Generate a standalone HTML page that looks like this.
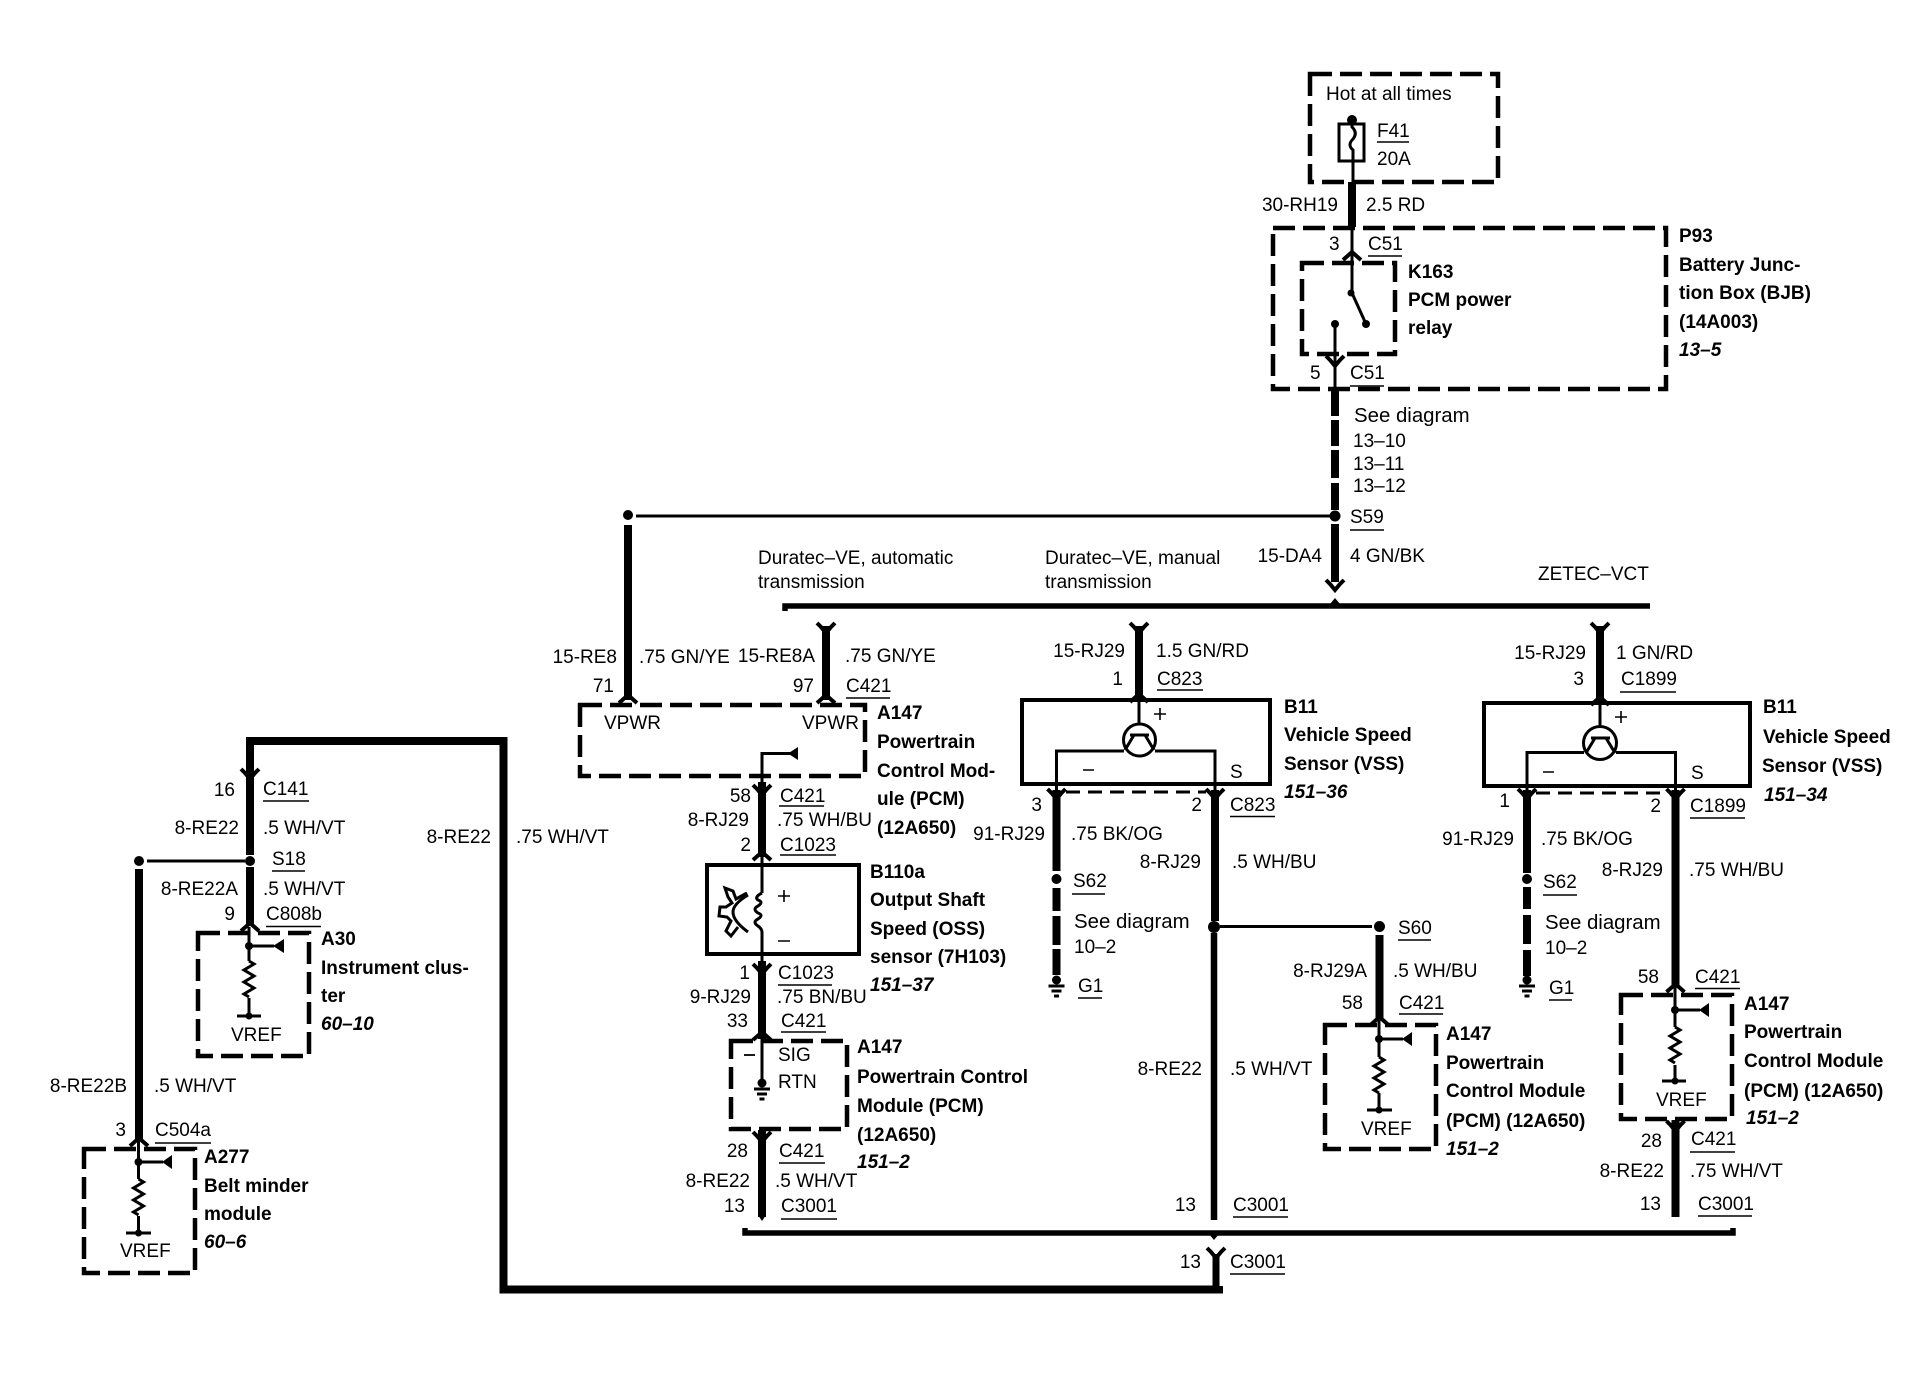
<!DOCTYPE html>
<html><head><meta charset="utf-8"><title>Wiring diagram</title>
<style>
html,body{margin:0;padding:0;background:#fff}
svg{display:block}
text{font-family:"Liberation Sans",sans-serif;font-size:19px;fill:#000}
.b{font-weight:bold}
.i{font-weight:bold;font-style:italic}
.e{text-anchor:end}
.sd{font-size:20.4px}
.th{fill:none;stroke:#000;stroke-width:8}
.tn{fill:none;stroke:#000;stroke-width:3}
.m{fill:none;stroke:#000;stroke-width:4}
.d{fill:none;stroke:#000;stroke-width:4.5;stroke-dasharray:22 8}
.u{fill:none;stroke:#000;stroke-width:1.6}
</style></head><body>
<svg xmlns="http://www.w3.org/2000/svg" width="1932" height="1376" viewBox="0 0 1932 1376">
<defs>
<path id="cu" d="M-9 7L0 -1L9 7" fill="none" stroke="#000" stroke-width="4"/>
<path id="cd" d="M-9 -7L-5 -3L0 3L5 -3L9 -7" fill="none" stroke="#000" stroke-width="4"/>
<path id="res" d="M0 0l5 3-10 6 10 6-10 6 10 6-10 6 5 3" fill="none" stroke="#000" stroke-width="3"/>
<g id="gnd"><circle r="4.5" cy="0"/><path d="M-8 6H8M-5 11H5M-2.5 16H2.5" stroke="#000" stroke-width="3"/></g>
</defs>
<rect width="1932" height="1376" fill="#fff"/>

<!-- dashed boxes -->
<path class="d" d="M1310 74H1498V182H1310Z"/>
<path class="d" d="M1273 228H1666V389H1273Z"/>
<path class="d" d="M1302 263H1395V354H1302Z"/>
<path class="d" d="M580 705H865V776H580Z"/>
<path class="d" d="M731 1041H847V1129H731Z"/>
<path class="d" d="M1325 1025H1436V1149H1325Z"/>
<path class="d" d="M1621 995H1732V1119H1621Z"/>
<path class="d" d="M198 933H309V1056H198Z"/>
<path class="d" d="M84 1149H195V1273H84Z"/>

<!-- top wires -->
<circle cx="1352" cy="120" r="5"/>
<rect x="1339" y="124" width="25" height="37" fill="none" stroke="#000" stroke-width="3"/>
<path class="tn" d="M1352 120V127Q1358 133 1353 139Q1347 145 1353 150V182"/>
<path class="th" d="M1352 182V227"/>
<path class="tn" d="M1352 227V293L1366 324"/>
<use href="#cu" x="1352" y="253"/>
<circle cx="1351" cy="293" r="3.5"/><circle cx="1366" cy="324" r="4"/>
<circle cx="1335" cy="324" r="4"/>
<path class="tn" d="M1335 324V389"/>
<use href="#cd" x="1335" y="363"/>
<path class="th" d="M1335 389V416M1335 420V446M1335 450V478M1335 483V510M1335 524V582"/>
<circle cx="1335" cy="516" r="5.5"/>
<path class="tn" d="M636 516H1330"/>
<use href="#cd" x="1335" y="587"/>
<path class="m" d="M785 611V606H1650" style="stroke-width:5.5"/>
<path d="M1335 598L1330 604H1340Z"/>
<circle cx="628" cy="515" r="5"/>
<path class="th" d="M628 525V700"/>
<use href="#cu" x="628" y="696"/>
<path class="th" d="M826 626V700"/>
<use href="#cd" x="826" y="630"/>
<use href="#cu" x="826" y="696"/>

<!-- OSS -->
<path class="tn" d="M762 782V753.5H790"/>
<path d="M788 753.5L798 747V760Z"/>
<path class="th" d="M762 782V857"/>
<use href="#cd" x="762" y="792"/>
<use href="#cu" x="762" y="853"/>
<rect x="707" y="865" width="152" height="89" fill="none" stroke="#000" stroke-width="4"/>
<path class="tn" d="M762 857V893M762 932V961"/>
<path class="tn" d="M762 893Q754 897 758 900Q764 902 758 906Q752 909 758 913Q764 915 758 919Q752 922 758 926Q762 929 762 932"/>
<path class="tn" d="M748 895Q733 904 733 912Q733 921 748 932M747 893L736 899L733 891L725 888L728 897L732 903L726 907L720 907L719 916L727 917L731 921L726 931L731 936L738 927"/>
<path class="tn" style="stroke-width:1.6" d="M778 896H790M784 890V902M778 941H790"/>
<path class="th" d="M762 961V1039"/>
<use href="#cd" x="762" y="971"/>
<use href="#cu" x="762" y="1033"/>
<path class="tn" d="M762 1032V1083"/>
<use href="#gnd" x="762" y="1083"/>
<path class="tn" style="stroke-width:1.8" d="M744 1055H755"/>
<path class="th" d="M762 1130V1217"/>
<path d="M758 1215H766L762 1221Z"/>
<use href="#cd" x="762" y="1139"/>

<!-- VSS 1 -->
<path class="th" d="M1139 626V699"/>
<use href="#cd" x="1139" y="630"/>
<use href="#cu" x="1139" y="695"/>
<rect x="1022" y="700" width="248" height="84" fill="none" stroke="#000" stroke-width="4"/>
<path class="tn" d="M1139 699V724M1056.5 790V751H1124M1155 751H1215V790"/>
<circle cx="1139.5" cy="740" r="16" fill="none" stroke="#000" stroke-width="3"/>
<path class="tn" d="M1130 735H1149M1134 735L1125 750M1145 735L1154 750"/>
<path class="tn" style="stroke-width:1.6" d="M1154 714H1166M1160 708V720M1083 770H1094"/>
<path class="tn" style="stroke-dasharray:14 8" d="M1066 792H1206"/>
<path class="th" d="M1056.5 790V871M1056.5 888V911M1056.5 916V945M1056.5 949V975M1215 790V921"/>
<path class="th" style="stroke-width:6.5" d="M1214 933V1220"/>
<use href="#cd" x="1056.5" y="796"/>
<use href="#cd" x="1215" y="796"/>
<circle cx="1056.5" cy="879" r="5"/>
<circle cx="1214" cy="927" r="6"/>
<path class="tn" d="M1220 926.5H1372"/>
<use href="#gnd" x="1056.5" y="980"/>

<!-- VSS 2 -->
<path class="th" d="M1600 626V702"/>
<use href="#cd" x="1600" y="630"/>
<use href="#cu" x="1600" y="698"/>
<rect x="1484" y="703" width="266" height="83" fill="none" stroke="#000" stroke-width="4"/>
<path class="tn" d="M1600 702V727M1527 790V752.5H1584M1616 752.5H1675.5V790"/>
<circle cx="1600" cy="743" r="16.5" fill="none" stroke="#000" stroke-width="3"/>
<path class="tn" d="M1591 738H1610M1595 738L1586 753M1606 738L1615 753"/>
<path class="tn" style="stroke-width:1.6" d="M1615 717H1627M1621 711V723M1543 772H1554"/>
<path class="tn" style="stroke-dasharray:14 8" d="M1536 793H1668"/>
<path class="th" d="M1527 790V873M1527 887V909M1527 915V944M1527 950V976M1675.5 790V986"/>
<use href="#cd" x="1527" y="796"/>
<use href="#cd" x="1675.5" y="796"/>
<circle cx="1527" cy="879" r="5"/>
<use href="#gnd" x="1527" y="980"/>
<use href="#cu" x="1675.5" y="985"/>

<!-- A147 VREF right -->
<path class="tn" d="M1675 985V1027M1675 1065V1081M1662 1081H1686M1675 1010H1700"/>
<circle cx="1675" cy="1010" r="4"/><circle cx="1675" cy="1081" r="3.5"/>
<path d="M1699 1010L1709 1003V1017Z"/>
<use href="#res" x="1675" y="1027"/>
<path class="th" d="M1675.5 1120V1217"/>
<use href="#cd" x="1675.5" y="1128"/>

<!-- S60 -->
<circle cx="1379.5" cy="926.5" r="5.5"/>
<path class="th" d="M1379.5 935V1019"/>
<use href="#cu" x="1379.5" y="1018"/>
<path class="tn" d="M1379 1020V1057M1379 1093V1110M1367 1110H1392M1379 1039H1403"/>
<circle cx="1379" cy="1039" r="4"/><circle cx="1379" cy="1110" r="3.5"/>
<path d="M1402 1039L1412 1032V1046Z"/>
<use href="#res" x="1379" y="1057"/>

<!-- bus bottom -->
<path class="m" style="stroke-width:5.5" d="M745 1228V1233H1733V1228"/>
<path d="M1214 1240L1209 1234H1219Z"/>
<use href="#cd" x="1216" y="1255"/>
<path class="th" style="stroke-width:7" d="M1216 1254V1290"/>

<!-- big left loop -->
<path class="th" d="M250 855V741H503.5V1289.5H1219V1286"/>
<path class="th" d="M250 867V925"/>
<circle cx="250" cy="861" r="5"/>
<use href="#cd" x="250" y="776"/>
<use href="#cu" x="250" y="924"/>
<circle cx="139" cy="861" r="5"/>
<path class="tn" d="M147 861H245"/>
<path class="th" d="M139 869V1140"/>
<use href="#cu" x="139" y="1139"/>
<path class="tn" d="M249 927V961M249 998V1016M237 1016H261M249 946H274"/>
<circle cx="249" cy="946" r="4"/><circle cx="249" cy="1016" r="3.5"/>
<path d="M273 946L284 939V953Z"/>
<use href="#res" x="249" y="961"/>
<path class="tn" d="M138.5 1141V1179M138.5 1216V1233M126 1233H151M138.5 1162H163"/>
<circle cx="138.5" cy="1162" r="4"/><circle cx="138.5" cy="1233" r="3.5"/>
<path d="M162 1162L172 1155V1169Z"/>
<use href="#res" x="138.5" y="1179"/>

<!-- underlines -->
<path class="u" d="M1377 142H1409M1368 256H1402M1350 386H1384M1350 530H1384M846 698H890M779 806H824M780 855H836M778 985H832M781 1032H826M1157 690H1203M1230 816.5H1275M1072 894H1105M1078 998H1102M1398 940H1431M1399 1014H1443M1620 692H1676M1690 818H1745M1543 895H1577M1549 1000H1572M1695 988.5H1740M1690 1152H1735M1698 1216H1752M1233 1217H1288M779 1163H825M781 1219H837M1230 1274H1285M263 801H309M272 871H305M266 926.5H321M155 1143H211"/>

<!-- text -->
<text x="1326" y="100">Hot at all times</text>
<text x="1377" y="137">F41</text>
<text x="1377" y="165">20A</text>
<text class="e" x="1338" y="211">30-RH19</text>
<text x="1366" y="211">2.5 RD</text>
<text x="1329" y="250">3</text>
<text x="1368" y="250">C51</text>
<text x="1310" y="379">5</text>
<text x="1350" y="379">C51</text>
<text class="b" x="1408" y="278">K163</text>
<text class="b" x="1408" y="306">PCM power</text>
<text class="b" x="1408" y="334">relay</text>
<text class="b" x="1679" y="242">P93</text>
<text class="b" x="1679" y="271">Battery Junc-</text>
<text class="b" x="1679" y="299">tion Box (BJB)</text>
<text class="b" x="1679" y="328">(14A003)</text>
<text class="i" x="1679" y="356">13–5</text>
<text class="sd" x="1354" y="422">See diagram</text>
<text x="1353" y="447">13–10</text>
<text x="1353" y="470">13–11</text>
<text x="1353" y="492">13–12</text>
<text x="1350" y="523">S59</text>
<text class="e" x="1322" y="562">15-DA4</text>
<text x="1350" y="562">4 GN/BK</text>
<text x="1538" y="580">ZETEC–VCT</text>
<text x="758" y="564">Duratec–VE, automatic</text>
<text x="758" y="588">transmission</text>
<text x="1045" y="564">Duratec–VE, manual</text>
<text x="1045" y="588">transmission</text>

<text class="e" x="617" y="663">15-RE8</text>
<text x="639" y="663">.75 GN/YE</text>
<text class="e" x="815" y="662">15-RE8A</text>
<text x="845" y="662">.75 GN/YE</text>
<text class="e" x="614" y="692">71</text>
<text class="e" x="814" y="692">97</text>
<text x="846" y="692">C421</text>
<text x="604" y="729">VPWR</text>
<text x="802" y="729">VPWR</text>
<text class="b" x="877" y="719">A147</text>
<text class="b" x="877" y="748">Powertrain</text>
<text class="b" x="877" y="777">Control Mod-</text>
<text class="b" x="877" y="805">ule (PCM)</text>
<text class="b" x="877" y="834">(12A650)</text>
<text class="e" x="751" y="802">58</text>
<text x="780" y="802">C421</text>
<text class="e" x="749" y="826">8-RJ29</text>
<text x="777" y="826">.75 WH/BU</text>
<text class="e" x="751" y="851">2</text>
<text x="780" y="851">C1023</text>
<text class="b" x="870" y="878">B110a</text>
<text class="b" x="870" y="906">Output Shaft</text>
<text class="b" x="870" y="935">Speed (OSS)</text>
<text class="b" x="870" y="963">sensor (7H103)</text>
<text class="i" x="870" y="991">151–37</text>
<text class="e" x="750" y="979">1</text>
<text x="778" y="979">C1023</text>
<text class="e" x="751" y="1003">9-RJ29</text>
<text x="777" y="1003">.75 BN/BU</text>
<text class="e" x="748" y="1027">33</text>
<text x="781" y="1027">C421</text>
<text x="778" y="1061">SIG</text>
<text x="778" y="1088">RTN</text>
<text class="b" x="857" y="1053">A147</text>
<text class="b" x="857" y="1083">Powertrain Control</text>
<text class="b" x="857" y="1112">Module (PCM)</text>
<text class="b" x="857" y="1141">(12A650)</text>
<text class="i" x="857" y="1168">151–2</text>
<text class="e" x="748" y="1157">28</text>
<text x="779" y="1157">C421</text>
<text class="e" x="750" y="1187">8-RE22</text>
<text x="775" y="1187">.5 WH/VT</text>
<text class="e" x="745" y="1212">13</text>
<text x="781" y="1212">C3001</text>

<text class="e" x="1125" y="657">15-RJ29</text>
<text x="1156" y="657">1.5 GN/RD</text>
<text class="e" x="1123" y="685">1</text>
<text x="1157" y="685">C823</text>
<text x="1230" y="778">S</text>
<text class="b" x="1284" y="713">B11</text>
<text class="b" x="1284" y="741">Vehicle Speed</text>
<text class="b" x="1284" y="770">Sensor (VSS)</text>
<text class="i" x="1284" y="798">151–36</text>
<text class="e" x="1042" y="811">3</text>
<text class="e" x="1202" y="811">2</text>
<text x="1230" y="811">C823</text>
<text class="e" x="1045" y="840">91-RJ29</text>
<text x="1071" y="840">.75 BK/OG</text>
<text class="e" x="1201" y="868">8-RJ29</text>
<text x="1232" y="868">.5 WH/BU</text>
<text x="1073" y="887">S62</text>
<text class="sd" x="1074" y="928">See diagram</text>
<text x="1074" y="953">10–2</text>
<text x="1078" y="992">G1</text>
<text class="e" x="1202" y="1075">8-RE22</text>
<text x="1230" y="1075">.5 WH/VT</text>
<text class="e" x="1196" y="1211">13</text>
<text x="1233" y="1211">C3001</text>
<text class="e" x="1201" y="1268">13</text>
<text x="1230" y="1268">C3001</text>

<text x="1398" y="934">S60</text>
<text class="e" x="1367" y="977">8-RJ29A</text>
<text x="1393" y="977">.5 WH/BU</text>
<text class="e" x="1363" y="1009">58</text>
<text x="1399" y="1009">C421</text>
<text x="1361" y="1135">VREF</text>
<text class="b" x="1446" y="1040">A147</text>
<text class="b" x="1446" y="1069">Powertrain</text>
<text class="b" x="1446" y="1097">Control Module</text>
<text class="b" x="1446" y="1127">(PCM) (12A650)</text>
<text class="i" x="1446" y="1155">151–2</text>

<text class="e" x="1586" y="659">15-RJ29</text>
<text x="1616" y="659">1 GN/RD</text>
<text class="e" x="1584" y="685">3</text>
<text x="1621" y="685">C1899</text>
<text x="1691" y="779">S</text>
<text class="b" x="1763" y="713">B11</text>
<text class="b" x="1763" y="743">Vehicle Speed</text>
<text class="b" x="1762" y="772">Sensor (VSS)</text>
<text class="i" x="1764" y="801">151–34</text>
<text class="e" x="1510" y="807">1</text>
<text class="e" x="1661" y="812">2</text>
<text x="1690" y="812">C1899</text>
<text class="e" x="1514" y="845">91-RJ29</text>
<text x="1541" y="845">.75 BK/OG</text>
<text class="e" x="1663" y="876">8-RJ29</text>
<text x="1689" y="876">.75 WH/BU</text>
<text x="1543" y="888">S62</text>
<text class="sd" x="1545" y="929">See diagram</text>
<text x="1545" y="954">10–2</text>
<text x="1549" y="994">G1</text>
<text class="e" x="1659" y="983">58</text>
<text x="1695" y="983">C421</text>
<text x="1656" y="1106">VREF</text>
<text class="b" x="1744" y="1010">A147</text>
<text class="b" x="1744" y="1038">Powertrain</text>
<text class="b" x="1744" y="1067">Control Module</text>
<text class="b" x="1744" y="1097">(PCM) (12A650)</text>
<text class="i" x="1746" y="1124">151–2</text>
<text class="e" x="1662" y="1147">28</text>
<text x="1691" y="1145">C421</text>
<text class="e" x="1664" y="1177">8-RE22</text>
<text x="1690" y="1177">.75 WH/VT</text>
<text class="e" x="1661" y="1210">13</text>
<text x="1698" y="1210">C3001</text>

<text class="e" x="235" y="796">16</text>
<text x="263" y="795">C141</text>
<text class="e" x="239" y="834">8-RE22</text>
<text x="263" y="834">.5 WH/VT</text>
<text x="272" y="865">S18</text>
<text class="e" x="238" y="895">8-RE22A</text>
<text x="263" y="895">.5 WH/VT</text>
<text class="e" x="235" y="920">9</text>
<text x="266" y="920">C808b</text>
<text x="231" y="1041">VREF</text>
<text class="b" x="321" y="945">A30</text>
<text class="b" x="321" y="974">Instrument clus-</text>
<text class="b" x="321" y="1002">ter</text>
<text class="i" x="321" y="1030">60–10</text>
<text class="e" x="491" y="843">8-RE22</text>
<text x="516" y="843">.75 WH/VT</text>
<text class="e" x="127" y="1092">8-RE22B</text>
<text x="154" y="1092">.5 WH/VT</text>
<text class="e" x="126" y="1136">3</text>
<text x="155" y="1136">C504a</text>
<text x="120" y="1257">VREF</text>
<text class="b" x="204" y="1163">A277</text>
<text class="b" x="204" y="1192">Belt minder</text>
<text class="b" x="204" y="1220">module</text>
<text class="i" x="204" y="1248">60–6</text>
</svg>
</body></html>
